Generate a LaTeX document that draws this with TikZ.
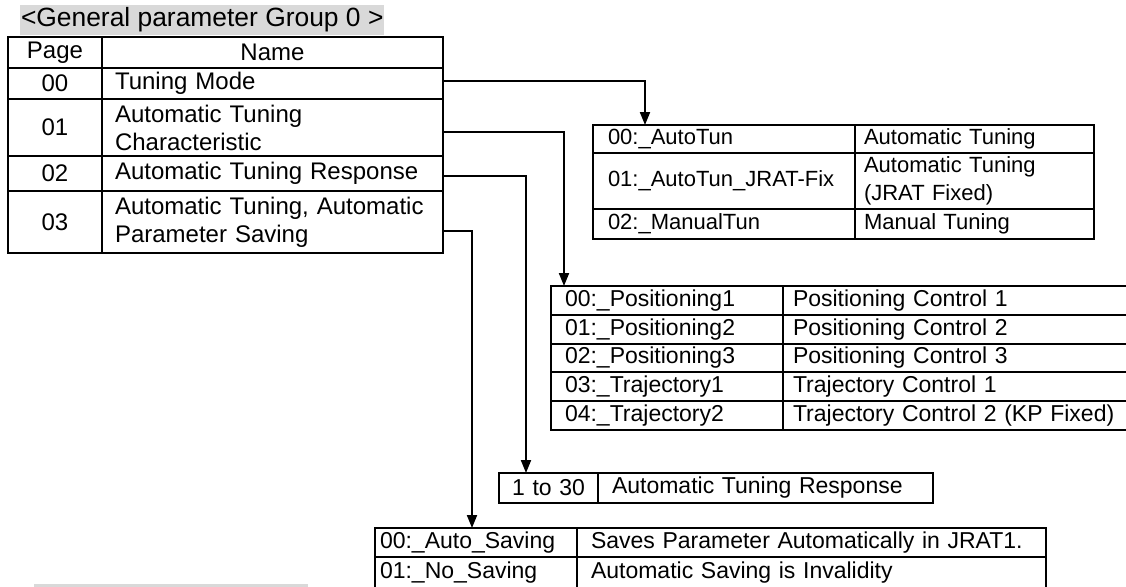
\documentclass[tikz,border=0pt]{standalone}
\usepackage{fontspec}
\setmainfont{Liberation Sans}
\usetikzlibrary{arrows.meta,positioning}

\begin{document}
\begin{tikzpicture}[
    x=1pt, y=1pt,
    >={Triangle[length=6.5pt,width=5pt]},
    every node/.style={outer sep=0pt, inner ysep=0pt},
    cell/.style={rectangle, draw, line width=1pt, anchor=north west, align=left},
    big/.style={font=\fontsize{12}{14}\selectfont},
    small/.style={font=\fontsize{11.5}{14}\selectfont},
    pagecol/.style={cell, big, align=center, text width=45pt, inner xsep=1pt},
    namecol/.style={cell, big, text width=157.5pt, inner xsep=6.5pt},
    tuncol/.style={cell, font=\fontsize{11}{14}\selectfont, text width=116pt, inner xsep=7.5pt},
    tundesc/.style={cell, font=\fontsize{11}{14}\selectfont, text width=110.5pt, inner xsep=4.5pt},
    poscol/.style={cell, small, text width=102pt, inner xsep=7pt, minimum height=14.4pt},
    posdesc/.style={cell, small, text width=166pt, inner xsep=5pt, minimum height=14.4pt},
    savcol/.style={cell, small, text width=96pt, inner xsep=2.5pt},
    savdesc/.style={cell, small, text width=220.5pt, inner xsep=7pt},
    arrow/.style={->, line width=1pt}
]
    \useasboundingbox (0,0) rectangle (563,-293);

    % Title
    \node (title) [anchor=west, fill=black!15, minimum height=15pt, inner xsep=0.5pt,
        font=\fontsize{13.2}{15}\selectfont] at (10,-10) {<General parameter Group 0 >};

    % Parameter table
    \node (page) [pagecol, minimum height=15.5pt] at (4,-18.5) {Page};
    \node (name) [namecol, align=center, minimum height=15.5pt] at (page.north east) {Name};
    \node (pg0) [pagecol, minimum height=15.5pt] at (page.south west) {00};
    \node (nm0) [namecol, minimum height=15.5pt] at (pg0.north east) {Tuning Mode};
    \node (pg1) [pagecol, minimum height=28.5pt] at (pg0.south west) {01};
    \node (nm1) [namecol, minimum height=28.5pt] at (pg1.north east) {Automatic Tuning\\Characteristic};
    \node (pg2) [pagecol, minimum height=17.5pt] at (pg1.south west) {02};
    \node (nm2) [namecol, minimum height=17.5pt] at (pg2.north east) {Automatic Tuning Response};
    \node (pg3) [pagecol, minimum height=31pt] at (pg2.south west) {03};
    \node (nm3) [namecol, minimum height=31pt] at (pg3.north east) {Automatic Tuning, Automatic\\Parameter Saving};

    % Tuning mode values
    \node (tun0) [tuncol, minimum height=14pt] at (296.5,-62.5) {00:\_AutoTun};
    \node (tun0d) [tundesc, minimum height=14pt] at (tun0.north east) {Automatic Tuning};
    \node (tun1) [tuncol, minimum height=28pt] at (tun0.south west) {01:\_AutoTun\_JRAT-Fix};
    \node (tun1d) [tundesc, minimum height=28pt] at (tun1.north east) {Automatic Tuning\\(JRAT Fixed)};
    \node (tun2) [tuncol, minimum height=15pt] at (tun1.south west) {02:\_ManualTun};
    \node (tun2d) [tundesc, minimum height=15pt] at (tun2.north east) {Manual Tuning};

    % Characteristic values
    \node (pos0) [poscol] at (275.5,-143) {00:\_Positioning1};
    \node (pos0d) [posdesc] at (pos0.north east) {Positioning Control 1};
    \node (pos1) [poscol] at (pos0.south west) {01:\_Positioning2};
    \node (pos1d) [posdesc] at (pos1.north east) {Positioning Control 2};
    \node (pos2) [poscol] at (pos1.south west) {02:\_Positioning3};
    \node (pos2d) [posdesc] at (pos2.north east) {Positioning Control 3};
    \node (pos3) [poscol] at (pos2.south west) {03:\_Trajectory1};
    \node (pos3d) [posdesc] at (pos3.north east) {Trajectory Control 1};
    \node (pos4) [poscol] at (pos3.south west) {04:\_Trajectory2};
    \node (pos4d) [posdesc] at (pos4.north east) {Trajectory Control 2 (KP Fixed)};

    % Response range
    \node (rsp) [cell, small, align=center, text width=47.5pt, inner xsep=1pt, minimum height=15pt] at (249.5,-236.5) {1 to 30};
    \node (rspd) [cell, small, text width=153.5pt, inner xsep=7pt, minimum height=15pt] at (rsp.north east) {Automatic Tuning Response};

    % Saving values
    \node (sav0) [savcol, minimum height=14.5pt] at (187.5,-264) {00:\_Auto\_Saving};
    \node (sav0d) [savdesc, minimum height=14.5pt] at (sav0.north east) {Saves Parameter Automatically in JRAT1.};
    \node (sav1) [savcol, minimum height=16pt] at (sav0.south west) {01:\_No\_Saving};
    \node (sav1d) [savdesc, minimum height=16pt] at (sav1.north east) {Automatic Saving is Invalidity};

    \fill [black!15] (17,-292) rectangle (154,-296);

    % Links
    \draw [arrow] ([yshift=1.25pt]nm0.east) -| ([xshift=26pt]tun0.north west);
    \draw [arrow] ([yshift=-2.25pt]nm1.east) -| ([xshift=6.5pt]pos0.north west);
    \draw [arrow] ([yshift=-1.25pt]nm2.east) -| ([xshift=13.5pt]rsp.north west);
    \draw [arrow] ([yshift=-4.5pt]nm3.east) -| ([xshift=48.5pt]sav0.north west);

\end{tikzpicture}
\end{document}
